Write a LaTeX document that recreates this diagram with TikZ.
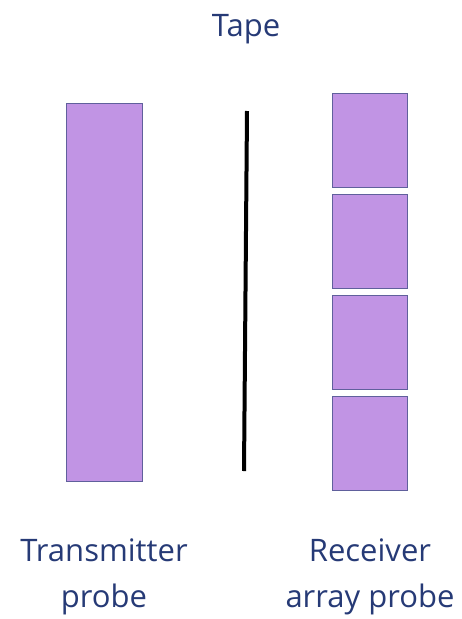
\documentclass[tikz,border=0pt]{standalone}
\usepackage{fontspec}
\setmainfont{Open Sans}
\usetikzlibrary{positioning}
\definecolor{probepurple}{RGB}{193, 148, 228}
\definecolor{edgeblue}{RGB}{96, 96, 156}
\definecolor{textblue}{RGB}{38, 58, 118}

\begin{document}
\begin{tikzpicture}[x=1pt, y=-1pt,
  every node/.style={font=\fontsize{31}{46}\selectfont, text=textblue},
  probebox/.style={draw=edgeblue, line width=1.2pt, fill=probepurple, inner sep=0pt, anchor=north west},
  element/.style={probebox, minimum width=75pt, minimum height=94pt}]
\useasboundingbox (0,0) rectangle (462,619);
\node (tape) at (246,29) {Tape};
\node[probebox, minimum width=76pt, minimum height=378pt] (tx) at (66,103) {};
\node[element] (rx1) at (332,93) {};
\node[element] (rx2) at (332,194) {};
\node[element] (rx3) at (332,295) {};
\node[element] (rx4) at (332,396) {};
\coordinate (tapetop) at (247,111);
\coordinate (tapebot) at (244,471);
\draw[line width=4pt] (tapetop) -- (tapebot);
\node[align=center] (txlabel) at (104,577) {Transmitter\\probe};
\node[align=center] (rxlabel) at (370,577) {Receiver\\array probe};
\end{tikzpicture}
\end{document}
